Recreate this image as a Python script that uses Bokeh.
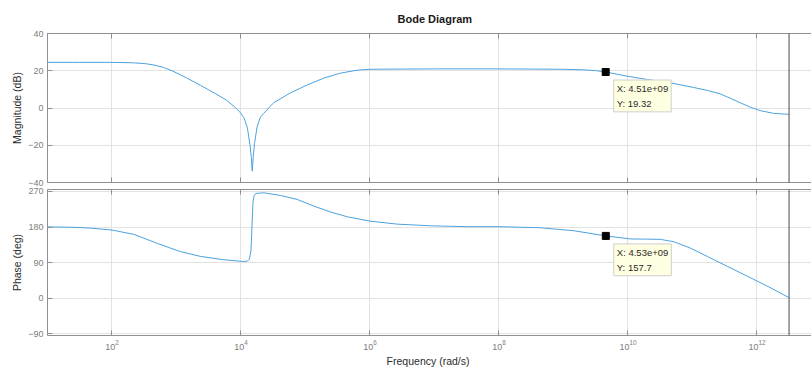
import numpy as np
from bokeh.plotting import figure
from bokeh.layouts import column
from bokeh.models import LogAxis, Range1d, FixedTicker, Span, Label, ColumnDataSource
from bokeh.embed import file_html
from bokeh.resources import INLINE

# ---------------- data ----------------
title_text = "Bode Diagram"
x_label = "Frequency  (rad/s)"
mag_label = "Magnitude (dB)"
phase_label = "Phase (deg)"

x_ticks = [1e2, 1e4, 1e6, 1e8, 1e10, 1e12]
mag_ticks = [-40, -20, 0, 20, 40]
phase_ticks = [-90, 0, 90, 180, 270]
x_limits = [1e1, 7.0e12]
mag_limits = [-40, 40]
phase_limits = [-94, 275]
nyquist = 3.1416e12

# log10(frequency in rad/s) and magnitude in dB
mag_logw = [1.0, 1.5, 2.0, 2.3, 2.5, 2.65, 2.8, 2.93, 3.15, 3.37, 3.6, 3.78, 3.92, 3.99,
            4.05, 4.10, 4.14, 4.16, 4.174, 4.19, 4.21, 4.25, 4.30, 4.35, 4.45, 4.51,
            4.77, 5.03, 5.28, 5.54, 5.8, 6.0, 6.5, 7.0, 8.0, 8.5, 9.0, 9.3, 9.5,
            9.654, 9.85, 10.0, 10.3, 10.66, 11.02, 11.25, 11.43, 11.6, 11.74, 11.9,
            12.05, 12.26, 12.497]
mag_db = [24.5, 24.5, 24.5, 24.3, 23.9, 23.1, 21.8, 20.0, 16.3, 12.2, 7.8, 4.1, 0.0, -2.5,
          -5.5, -10.8, -20.0, -26.5, -33.9, -26.0, -19.0, -10.0, -5.0, -3.0, 0.8, 2.9,
          8.2, 12.4, 16.0, 18.7, 20.3, 20.8, 20.9, 21.0, 21.0, 20.9, 20.8, 20.5, 20.1,
          19.32, 18.0, 17.0, 15.3, 13.5, 11.0, 9.3, 7.6, 5.0, 2.8, 0.4,
          -1.4, -2.9, -3.4]

# log10(frequency in rad/s) and phase in degrees
phase_logw = [1.0, 1.41, 1.7, 2.0, 2.34, 2.7, 3.06, 3.37, 3.73, 3.9, 4.04, 4.10, 4.13,
              4.155, 4.17, 4.185, 4.20, 4.23, 4.35, 4.61, 4.87, 5.13, 5.39, 5.65, 6.0,
              6.42, 6.94, 7.51, 8.0, 8.64, 9.16, 9.656, 10.04, 10.3, 10.5, 10.71, 10.97,
              11.23, 11.54, 11.85, 12.16, 12.497]
phase_deg = [180.5, 179.5, 177.0, 172.5, 161.6, 139.0, 118.0, 106.0, 97.5, 95.0, 93.0,
             94.0, 99.0, 120.0, 180.0, 240.0, 258.0, 265.0, 266.7, 260.0, 250.0, 233.0,
             218.0, 206.0, 195.0, 187.5, 183.3, 181.0, 181.0, 178.3, 170.8, 157.7,
             150.0, 149.5, 149.0, 143.0, 126.7, 105.8, 80.8, 55.8, 30.8, 1.7]

tip_freq = [4.51e9, 4.53e9]
tip_vals = [19.32, 157.7]
tip_text = ["X: 4.51e+09\nY: 19.32", "X: 4.53e+09\nY: 157.7"]

# ---------------- style ----------------
FONT = "Liberation Sans"
AX = "#8f8f8f"
TICK_TXT = "#7d7d7d"
GRID = "#e2e2e2"
LINE = "#4aa2df"
LABEL_TXT = "#2b2b2b"

xt = FixedTicker(ticks=x_ticks, minor_ticks=[])


def style_axis(ax, labels):
    ax.axis_line_color = AX
    ax.major_tick_line_color = AX
    ax.major_tick_in = 5
    ax.major_tick_out = 0
    ax.minor_tick_line_color = None
    ax.major_label_text_font = FONT
    if labels:
        ax.major_label_text_font_size = "9px"
        ax.major_label_text_color = TICK_TXT
        ax.major_label_standoff = 4
    else:
        ax.major_label_text_font_size = "1px"
        ax.major_label_text_color = None
        ax.major_label_standoff = 0


def make_fig(height, ylim, yticks, ylabel, btop, bbottom, xlabels):
    p = figure(width=811, height=height, x_axis_type="log",
               x_range=Range1d(*x_limits), y_range=Range1d(*ylim),
               output_backend="svg", toolbar_location=None,
               min_border_left=47, min_border_right=0,
               min_border_top=btop, min_border_bottom=bbottom)
    p.outline_line_color = None
    p.background_fill_color = "white"
    p.border_fill_color = "white"
    yt = FixedTicker(ticks=yticks, minor_ticks=[])
    p.xaxis.ticker = xt
    p.yaxis.ticker = yt
    for ax in p.xaxis:
        style_axis(ax, xlabels)
        if xlabels:
            ax.axis_label = x_label
            ax.axis_label_text_font = FONT
            ax.axis_label_text_font_size = "10.5px"
            ax.axis_label_text_font_style = "normal"
            ax.axis_label_text_color = LABEL_TXT
            ax.axis_label_standoff = 2
    for ax in p.yaxis:
        style_axis(ax, True)
        ax.major_label_standoff = 4
        ax.axis_label = ylabel
        ax.axis_label_text_font = FONT
        ax.axis_label_text_font_size = "10.5px"
        ax.axis_label_text_font_style = "normal"
        ax.axis_label_text_color = LABEL_TXT
        ax.axis_label_standoff = 2
    top = LogAxis(ticker=xt)
    style_axis(top, False)
    p.add_layout(top, "above")
    p.xgrid.ticker = xt
    p.ygrid.ticker = yt
    p.xgrid.grid_line_color = GRID
    p.ygrid.grid_line_color = GRID
    p.add_layout(Span(location=nyquist, dimension="height",
                      line_color="#4a4a4a", line_width=1))
    return p


p1 = make_fig(187, mag_limits, mag_ticks, mag_label, 33, 5, False)
p2 = make_fig(182, phase_limits, phase_ticks, phase_label, 2, 32, True)

p1.title.text = title_text
p1.title.align = "left"
p1.title.offset = 350
p1.title.text_font = FONT
p1.title.text_font_size = "11px"
p1.title.text_font_style = "bold"
p1.title.text_color = "#1a1a1a"
p1.title.standoff = 18

src1 = ColumnDataSource(dict(w=10 ** np.array(mag_logw), v=mag_db))
src2 = ColumnDataSource(dict(w=10 ** np.array(phase_logw), v=phase_deg))
p1.line("w", "v", source=src1, line_color=LINE, line_width=1.0)
p2.line("w", "v", source=src2, line_color=LINE, line_width=1.0)

for p, f, v, t in zip([p1, p2], tip_freq, tip_vals, tip_text):
    p.scatter(x=[f], y=[v], marker="square", size=7, fill_color="black",
              line_color="black")
    p.add_layout(Label(x=f, y=v, text=t, x_offset=8, y_offset=-8,
                       text_baseline="top", text_align="left",
                       text_font=FONT, text_font_size="9.5px",
                       text_color="#2b2b2b", text_line_height=1.35,
                       background_fill_color="#FFFFE1",
                       border_line_color="#cfcfcf", padding=3))

layout = column(p1, p2, spacing=0)
open("out.html", "w").write(file_html(layout, INLINE))
